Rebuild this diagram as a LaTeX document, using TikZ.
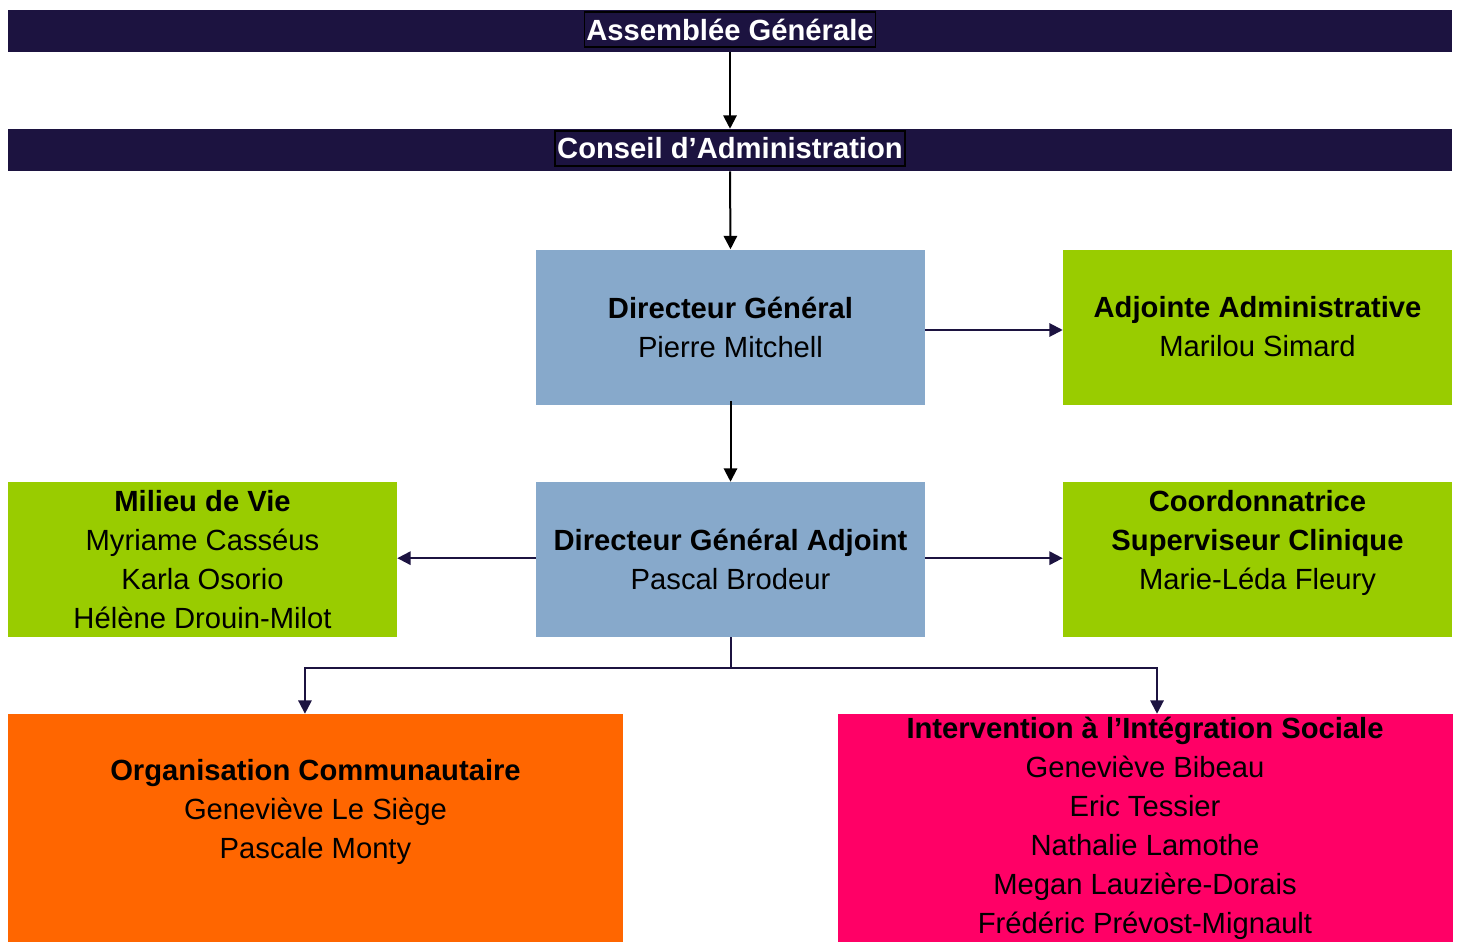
\documentclass[tikz,border=0pt]{standalone}
\usepackage{fontspec}
\setmainfont{Liberation Sans}
\usetikzlibrary{positioning,arrows.meta}

\definecolor{navy}{HTML}{1C1340}
\definecolor{steel}{HTML}{87A9CB}
\definecolor{lime}{HTML}{99CC00}
\definecolor{tangerine}{HTML}{FF6600}
\definecolor{rose}{HTML}{FF0066}

\tikzset{
  bar/.style={fill=navy, minimum width=1083pt, minimum height=31.5pt, inner sep=0pt},
  bartext/.style={draw=black, fill=navy, text=white, font=\fontsize{21.9}{24}\selectfont\bfseries,
    inner xsep=1.5pt, inner ysep=0pt, minimum height=26pt, line width=1.2pt},
  unit/.style={minimum width=291.75pt, minimum height=116.25pt, inner sep=0pt, align=center,
    font=\fontsize{21.9}{29.25}\selectfont},
  wideunit/.style={unit, minimum width=461.25pt, minimum height=171pt},
  link/.style={-{Triangle[length=10pt,width=10pt]}, line width=1.5pt, color=navy},
  toplink/.style={link, color=black}
}

\begin{document}
\begin{tikzpicture}[x=0.75pt,y=-0.75pt]
\useasboundingbox (0,0) rectangle (1458,942);

% bars
\node[bar] (agbar) at (730,31) {};
\node[bartext] (ag) at (730,29.5) {Assemblée Générale};
\node[bar] (cabar) at (730,150) {};
\node[bartext] (ca) at (730,148.5) {Conseil d’Administration};

% direction
\node[unit, fill=steel] (dg) at (730.5,327) {\textbf{Directeur Général}\\Pierre Mitchell};
\node[unit, fill=lime] (adj) at (1257.5,327) {\textbf{Adjointe Administrative}\\Marilou Simard};
\node[unit, fill=steel] (dga) at (730.5,559.5) {\textbf{Directeur Général Adjoint}\\Pascal Brodeur};
\node[unit, fill=lime] (mv) at (202.5,559.5) {\textbf{Milieu de Vie}\\Myriame Casséus\\Karla Osorio\\Hélène Drouin-Milot};
\node[unit, fill=lime] (coord) at (1257.5,559.5) {\textbf{Coordonnatrice}\\\textbf{Superviseur Clinique}\\Marie-Léda Fleury\\\mbox{}};

% services
\node[wideunit, fill=tangerine] (oc) at (315.5,828) {\textbf{Organisation Communautaire}\\Geneviève Le Siège\\Pascale Monty\\\mbox{}};
\node[wideunit, fill=rose] (iis) at (1145,828) {\textbf{Intervention à l’Intégration Sociale}\\Geneviève Bibeau\\Eric Tessier\\Nathalie Lamothe\\Megan Lauzière-Dorais\\Frédéric Prévost-Mignault};

% arrows
\draw[toplink] (agbar.south) -- (cabar.north);
\draw[toplink] (cabar.south) -- (dg.north);
\draw[toplink] ([yshift=3pt]dg.south) -- (dga.north);
\draw[link] ([yshift=-2.25pt]dg.east) -- ([yshift=-2.25pt]adj.west);
\draw[link] ([yshift=1pt]dga.west) -- ([yshift=1pt]mv.east);
\draw[link] ([yshift=1pt]dga.east) -- ([yshift=1pt]coord.west);

\coordinate (split) at (730.5,668);
\draw[link, -] (dga.south) -- (split);
\draw[link] (split) -| ([xshift=-7.9pt]oc.north);
\draw[link] (split) -| ([xshift=9pt]iis.north);

\end{tikzpicture}
\end{document}
